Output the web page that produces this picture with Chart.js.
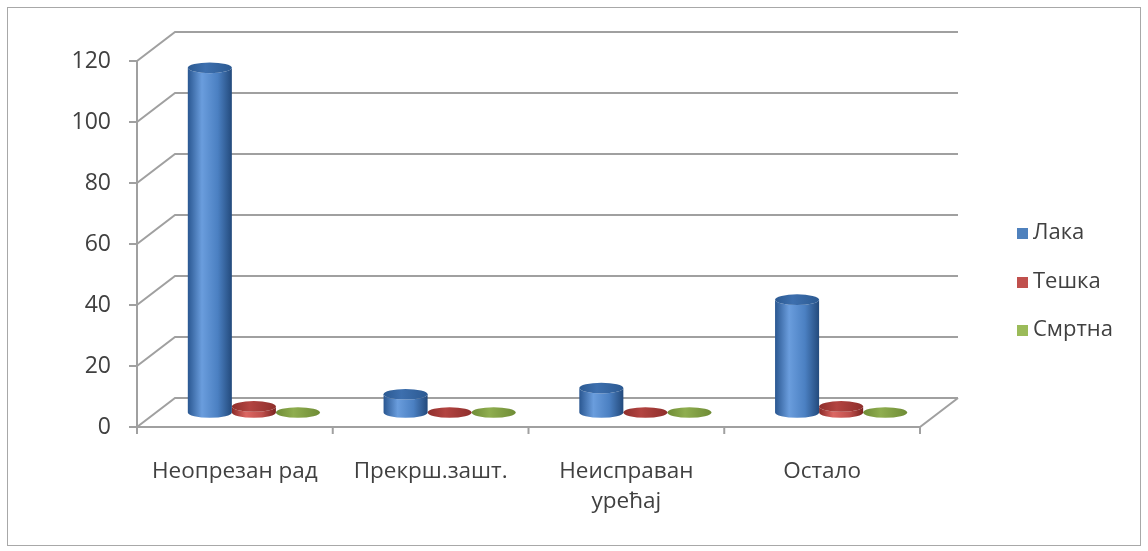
<!DOCTYPE html>
<html>
<head>
<meta charset="utf-8">
<script src="https://cdn.jsdelivr.net/npm/chart.js@4/dist/chart.umd.min.js"></script>
<style>
  html, body { margin: 0; padding: 0; background: #ffffff; }
  canvas { display: block; }
</style>
</head>
<body>
<canvas id="c" width="1148" height="551"></canvas>
<script>
// Categories (causes) and the three injury-severity series
const categories = ['Неопрезан рад', 'Прекрш.зашт.', ['Неисправан', 'урећај'], 'Остало'];
const seriesNames = ['Лака', 'Тешка', 'Смртна'];
const laka = [113, 6, 8, 37];
const teska = [2, 0, 0, 2];
const smrtna = [0, 0, 0, 0];
const yMin = 0, yMax = 120, yStep = 20;

// Look of each series: legend swatch, cylinder shading and cap colour
const palettes = [
  { swatch: '#4f81bd', stops: ['#2a5791', '#6a9ddd', '#4b80c2', '#234a7c'], cap: '#3d6fae', rim: '#2c5a92' },
  { swatch: '#c0504d', stops: ['#8a2a27', '#dc6763', '#c0504d', '#7a2320'], cap: '#b34441', rim: '#8f2f2c' },
  { swatch: '#9bbb59', stops: ['#6a8731', '#b6d671', '#9bbb59', '#5d7628'], cap: '#8fae4f', rim: '#6f8c36' }
];

// 3D depth of the plot box: offset from the front plane to the back wall
const DEPTH_X = 38, DEPTH_Y = -29;
const BAR_DEPTH = 0.5;           // bars stand in the middle of the depth
const LINE = '#a0a0a0';
const TEXT = '#404040';
const FONT = '"Open Sans", "DejaVu Sans", sans-serif';

function drawCylinder(ctx, cx, yTop, yBase, w, pal) {
  const rx = w / 2, ry = w * 0.12;
  const g = ctx.createLinearGradient(cx - rx, 0, cx + rx, 0);
  g.addColorStop(0, pal.stops[0]);
  g.addColorStop(0.32, pal.stops[1]);
  g.addColorStop(0.68, pal.stops[2]);
  g.addColorStop(1, pal.stops[3]);
  // body
  ctx.beginPath();
  ctx.moveTo(cx - rx, yTop);
  ctx.lineTo(cx - rx, yBase);
  ctx.ellipse(cx, yBase, rx, ry, 0, Math.PI, 0, true);
  ctx.lineTo(cx + rx, yTop);
  ctx.ellipse(cx, yTop, rx, ry, 0, 0, Math.PI, false);
  ctx.closePath();
  ctx.fillStyle = g;
  ctx.fill();
  // top cap
  const cg = ctx.createLinearGradient(cx - rx, 0, cx + rx, 0);
  cg.addColorStop(0, pal.rim);
  cg.addColorStop(0.4, pal.cap);
  cg.addColorStop(1, pal.rim);
  ctx.beginPath();
  ctx.ellipse(cx, yTop, rx, ry, 0, 0, Math.PI * 2);
  ctx.fillStyle = cg;
  ctx.fill();
}

const plot3d = {
  id: 'plot3d',
  beforeDraw(chart) {
    const ctx = chart.ctx;
    ctx.save();
    ctx.fillStyle = '#ffffff';
    ctx.fillRect(0, 0, chart.width, chart.height);
    ctx.strokeStyle = '#a8a8a8';
    ctx.lineWidth = 1;
    ctx.strokeRect(7.5, 7.5, chart.width - 15, chart.height - 13);
    ctx.restore();
  },
  beforeDatasetsDraw(chart) {
    const ctx = chart.ctx;
    const xs = chart.scales.x, ys = chart.scales.y;
    const left = xs.left, right = xs.right;
    const y0 = ys.getPixelForValue(yMin);
    const tickVals = ys.ticks.map(t => t.value);

    ctx.save();
    ctx.strokeStyle = LINE;
    ctx.lineWidth = 2;
    ctx.lineCap = 'butt';

    // back wall gridlines with the diagonal along the side wall
    tickVals.forEach(v => {
      const y = ys.getPixelForValue(v);
      ctx.beginPath();
      ctx.moveTo(left, y);
      ctx.lineTo(left + DEPTH_X, y + DEPTH_Y);
      ctx.lineTo(right + DEPTH_X, y + DEPTH_Y);
      ctx.stroke();
      // tick marks on the value axis
      ctx.beginPath();
      ctx.moveTo(left - 8, y);
      ctx.lineTo(left, y);
      ctx.stroke();
    });

    // floor: front edge and right edge
    ctx.beginPath();
    ctx.moveTo(left, y0);
    ctx.lineTo(right, y0);
    ctx.lineTo(right + DEPTH_X, y0 + DEPTH_Y);
    ctx.stroke();

    // value axis line
    ctx.beginPath();
    ctx.moveTo(left, ys.getPixelForValue(yMax));
    ctx.lineTo(left, y0 + 7);
    ctx.stroke();

    // category separators
    const n = chart.data.labels.length;
    const step = (right - left) / n;
    for (let i = 0; i <= n; i++) {
      const x = left + i * step;
      ctx.beginPath();
      ctx.moveTo(x, y0);
      ctx.lineTo(x, y0 + 7);
      ctx.stroke();
    }

    // value labels
    ctx.fillStyle = TEXT;
    ctx.font = '23px ' + FONT;
    ctx.textAlign = 'right';
    ctx.textBaseline = 'middle';
    ys.ticks.forEach(t => {
      ctx.fillText(String(t.value), left - 26, ys.getPixelForValue(t.value));
    });

    // category labels
    ctx.font = '22.5px ' + FONT;
    ctx.textAlign = 'center';
    chart.data.labels.forEach((lab, i) => {
      const lines = Array.isArray(lab) ? lab : [lab];
      const x = xs.getPixelForValue(i);
      lines.forEach((s, k) => ctx.fillText(s, x, y0 + 45 + k * 30));
    });

    // cylinders, drawn back series first so the first series sits in front
    const ox = DEPTH_X * BAR_DEPTH, oy = DEPTH_Y * BAR_DEPTH;
    for (let d = chart.data.datasets.length - 1; d >= 0; d--) {
      const meta = chart.getDatasetMeta(d);
      meta.data.forEach(bar => {
        const p = bar.getProps(['x', 'y', 'base', 'width'], true);
        drawCylinder(ctx, p.x + ox, p.y + oy, p.base + oy, p.width, palettes[d]);
      });
    }

    // legend
    ctx.textAlign = 'left';
    ctx.font = '22px ' + FONT;
    const legendY = [233, 282, 330];
    chart.data.datasets.forEach((ds, i) => {
      ctx.fillStyle = palettes[i].swatch;
      ctx.fillRect(1017, legendY[i] - 5, 11, 11);
      ctx.fillStyle = TEXT;
      ctx.fillText(ds.label, 1033, legendY[i]);
    });

    ctx.restore();
    return false;
  }
};

new Chart(document.getElementById('c'), {
  type: 'bar',
  data: {
    labels: categories,
    datasets: [
      { label: seriesNames[0], data: laka, backgroundColor: palettes[0].swatch },
      { label: seriesNames[1], data: teska, backgroundColor: palettes[1].swatch },
      { label: seriesNames[2], data: smrtna, backgroundColor: palettes[2].swatch }
    ]
  },
  options: {
    responsive: false,
    animation: false,
    devicePixelRatio: 1,
    layout: { padding: { left: 137, right: 228, top: 61, bottom: 124 } },
    datasets: { bar: { categoryPercentage: 0.675, barPercentage: 1 } },
    plugins: { legend: { display: false }, tooltip: { enabled: false } },
    scales: {
      x: { display: false, offset: true },
      y: { display: false, min: yMin, max: yMax, ticks: { stepSize: yStep } }
    }
  },
  plugins: [plot3d]
});
</script>
</body>
</html>
